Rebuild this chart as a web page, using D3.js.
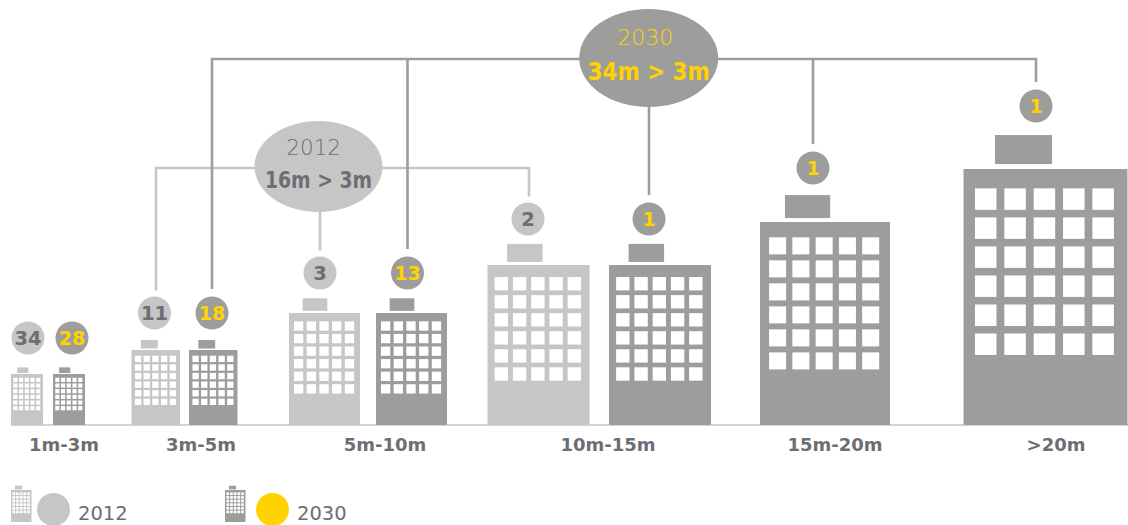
<!DOCTYPE html>
<html>
<head>
<meta charset="utf-8">
<script src="https://cdn.jsdelivr.net/npm/d3@7"></script>
<style>
  body { margin: 0; background: #fff; }
  text { font-family: "DejaVu Sans", sans-serif; }
</style>
</head>
<body>
<div id="chart"></div>
<script>
// data
const categories = ["1m-3m", "3m-5m", "5m-10m", "10m-15m", "15m-20m", ">20m"];
const years = ["2012", "2030"];
const counts2012 = [34, 11, 3, 2];
const counts2030 = [28, 18, 13, 1, 1, 1];
const rangeLabels = ["16m > 3m", "34m > 3m"];

const grey = "#c6c6c6", dark = "#9d9d9b", textGrey = "#6d6e71", yellow = "#ffd200";

const svg = d3.select("#chart").append("svg")
    .attr("width", 1128)
    .attr("height", 525);

// layout scales, one position per category
const buildingW = d3.scaleOrdinal().domain(categories).range([32, 48.5, 71, 102, 130, 164]);
const buildingH = d3.scaleOrdinal().domain(categories).range([51, 75, 112, 160, 203, 256]);
const left2012 = d3.scaleOrdinal().domain(categories).range([11, 131.5, 289, 487.5]);
const left2030 = d3.scaleOrdinal().domain(categories).range([53, 189, 376, 609, 760, 963.5]);
const bubbleX2012 = d3.scaleOrdinal().domain(categories).range([28, 154.5, 320, 528]);
const bubbleX2030 = d3.scaleOrdinal().domain(categories).range([72, 212, 407.5, 649, 813, 1036]);
const bubbleY = d3.scaleOrdinal().domain(categories).range([338, 313, 273, 219, 168, 106]);
const dropX2012 = d3.scaleOrdinal().domain(categories).range([0, 156, 320, 529]);
const labelX = d3.scaleOrdinal().domain(categories).range([64, 201, 385, 608, 835, 1056]);
const baseY = 425;
const bubbleR = 16.5;

// same icon at every size, everything is in proportion to its width
function building(g, x, bottom, w, h, color) {
    const top = bottom - h;
    g.append("rect").attr("x", x).attr("y", top).attr("width", w).attr("height", h).attr("fill", color);
    g.append("rect")
        .attr("x", x + w * 0.192).attr("y", top - w * 0.207)
        .attr("width", w * 0.348).attr("height", w * 0.177)
        .attr("fill", color);
    d3.range(6).forEach(function (row) {
        d3.range(5).forEach(function (col) {
            g.append("rect")
                .attr("x", x + w * (0.07 + col * 0.179))
                .attr("y", top + w * (0.118 + row * 0.177))
                .attr("width", w * 0.131)
                .attr("height", w * 0.131)
                .attr("fill", "#fff");
        });
    });
}

const line = d3.line();

// 2012 connectors
const lines2012 = svg.append("g").attr("fill", "none").attr("stroke", grey).attr("stroke-width", 2.6);
const y2012 = 168;
const gap2012 = 6;
lines2012.append("path").attr("d", line([
    [dropX2012(categories[1]), bubbleY(categories[1]) - bubbleR - gap2012],
    [dropX2012(categories[1]), y2012],
    [dropX2012(categories[3]), y2012],
    [dropX2012(categories[3]), bubbleY(categories[3]) - bubbleR - gap2012]
]));
lines2012.append("path").attr("d", line([
    [dropX2012(categories[2]), y2012],
    [dropX2012(categories[2]), bubbleY(categories[2]) - bubbleR - gap2012]
]));

// 2030 connectors
const lines2030 = svg.append("g").attr("fill", "none").attr("stroke", dark).attr("stroke-width", 2.6);
const y2030 = 59;
const gap2030 = 7.5;
lines2030.append("path").attr("d", line([
    [bubbleX2030(categories[1]), bubbleY(categories[1]) - bubbleR - gap2030],
    [bubbleX2030(categories[1]), y2030],
    [bubbleX2030(categories[5]), y2030],
    [bubbleX2030(categories[5]), bubbleY(categories[5]) - bubbleR - gap2030]
]));
[2, 3, 4].forEach(function (i) {
    lines2030.append("path").attr("d", line([
        [bubbleX2030(categories[i]), y2030],
        [bubbleX2030(categories[i]), bubbleY(categories[i]) - bubbleR - gap2030]
    ]));
});

// baseline
svg.append("line")
    .attr("x1", 11).attr("x2", 1128).attr("y1", baseY).attr("y2", baseY)
    .attr("stroke", grey).attr("stroke-width", 1.5);

// buildings
categories.forEach(function (c, i) {
    if (i < counts2012.length) building(svg.append("g"), left2012(c), baseY, buildingW(c), buildingH(c), grey);
    building(svg.append("g"), left2030(c), baseY, buildingW(c), buildingH(c), dark);
});

// count bubbles
function bubbles(values, xScale, color, textColor, size) {
    const g = svg.append("g").selectAll("g")
        .data(values)
        .enter()
        .append("g")
        .attr("transform", function (d, i) {
            return "translate(" + xScale(categories[i]) + "," + bubbleY(categories[i]) + ")";
        });
    g.append("circle").attr("r", bubbleR).attr("fill", color);
    g.append("text")
        .attr("text-anchor", "middle")
        .attr("y", 6.8)
        .attr("font-size", size)
        .attr("font-weight", "bold")
        .attr("fill", textColor)
        .text(function (d) { return d; });
}
bubbles(counts2012, bubbleX2012, grey, textGrey, 19.5);
bubbles(counts2030, bubbleX2030, dark, yellow, 19);

// category labels
svg.append("g").selectAll("text")
    .data(categories)
    .enter()
    .append("text")
    .attr("x", function (d) { return labelX(d); })
    .attr("y", 451)
    .attr("text-anchor", "middle")
    .attr("font-size", 18)
    .attr("font-weight", "bold")
    .attr("fill", textGrey)
    .text(function (d) { return d; });

// the two summary ellipses
function summary(cx, cy, rx, ry, color, textColor, year, range, yearX, yearY, yearSize, rangeY, rangeSize, rangeW) {
    svg.append("ellipse").attr("cx", cx).attr("cy", cy).attr("rx", rx).attr("ry", ry).attr("fill", color);
    svg.append("text").attr("x", yearX).attr("y", yearY).attr("text-anchor", "middle")
        .attr("font-size", yearSize).attr("font-weight", 200).attr("fill", textColor).text(year);
    svg.append("text").attr("x", cx).attr("y", rangeY).attr("text-anchor", "middle")
        .attr("font-size", rangeSize).attr("font-weight", "bold").attr("fill", textColor)
        .attr("textLength", rangeW).attr("lengthAdjust", "spacingAndGlyphs").text(range);
}
summary(318.5, 166.5, 64, 45.5, grey, textGrey, years[0], rangeLabels[0], 313.7, 155, 21.5, 188, 22.5, 107);
summary(648.7, 58, 69.5, 49, dark, yellow, years[1], rangeLabels[1], 645.3, 45, 22, 80, 25, 122);

// legend
[
    { x: 11, cx: 53.5, tx: 78, color: grey, dot: grey, year: years[0] },
    { x: 225, cx: 272.5, tx: 297, color: dark, dot: yellow, year: years[1] }
].forEach(function (d) {
    building(svg.append("g"), d.x, 522, 20.5, 32, d.color);
    svg.append("circle").attr("cx", d.cx).attr("cy", 509.5).attr("r", bubbleR).attr("fill", d.dot);
    svg.append("text").attr("x", d.tx).attr("y", 520.4)
        .attr("font-size", 19.5).attr("fill", textGrey).text(d.year);
});
</script>
</body>
</html>
